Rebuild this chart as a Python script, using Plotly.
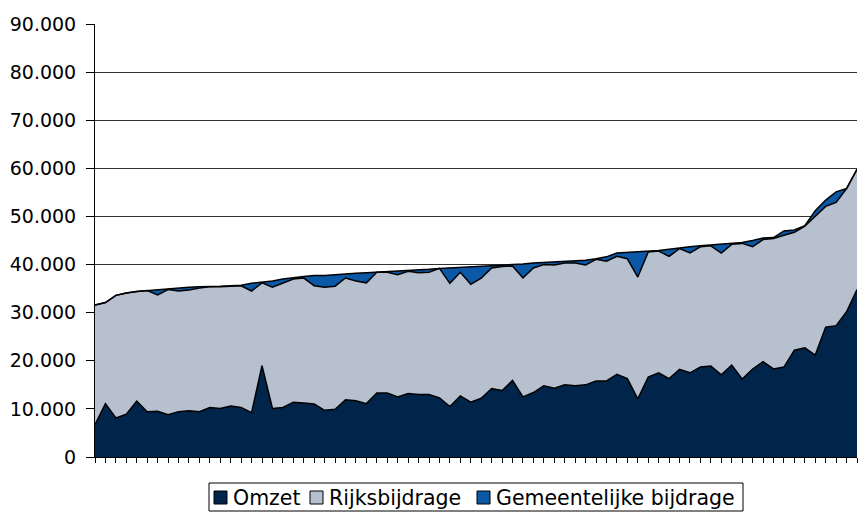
import plotly.graph_objects as go

# Values (euros)
omzet = [6700, 11100, 8100, 8900, 11600, 9400, 9500, 8800, 9400, 9600,
         9400, 10300, 10100, 10600, 10300, 9200, 19000, 10100, 10300, 11400,
         11200, 11000, 9700, 9900, 11900, 11700, 11100, 13300, 13300, 12500,
         13200, 13000, 13000, 12300, 10500, 12700, 11400, 12200, 14200, 13800,
         15900, 12500, 13400, 14800, 14300, 15000, 14800, 15000, 15800, 15800,
         17200, 16300, 12100, 16600, 17500, 16300, 18200, 17500, 18700, 18900,
         17100, 19100, 16200, 18300, 19800, 18300, 18700, 22200, 22700, 21200,
         27000, 27300, 30200, 34800]

rijksbijdrage = [24900, 21000, 25500, 25200, 22800, 25200, 24200, 26000, 25100, 25100,
                 25700, 25100, 25300, 24900, 25300, 25300, 17200, 25200, 25900, 25600,
                 26000, 24600, 25600, 25600, 25300, 24900, 25100, 25100, 25100, 25400,
                 25400, 25300, 25400, 26900, 25600, 25700, 24500, 25000, 25100, 25800,
                 23800, 24700, 25900, 25200, 25600, 25300, 25500, 24900, 25300, 24900,
                 24500, 24900, 25300, 26000, 25300, 25400, 25100, 24900, 25000, 25000,
                 25300, 25100, 28200, 25400, 25400, 27100, 27400, 24500, 25300, 28900,
                 25100, 25600, 25600, 25000]

gemeentelijk = [0, 0, 0, 0, 0, 0, 1000, 200, 600, 600,
                300, 0, 100, 100, 100, 1600, 100, 1300, 800, 300,
                300, 2100, 2400, 2400, 900, 1600, 2100, 0, 100, 700,
                100, 500, 600, 0, 3200, 1100, 3600, 2400, 400, 200,
                200, 2900, 1000, 400, 600, 300, 500, 1000, 100, 900,
                700, 1300, 5200, 200, 100, 1500, 200, 1300, 200, 200,
                1900, 300, 200, 1300, 300, 200, 900, 500, 100, 1100,
                1300, 2200, 0, 0]

categories = list(range(len(omzet)))

series_names = ["Omzet", "Rijksbijdrage", "Gemeentelijke bijdrage"]
series_values = [omzet, rijksbijdrage, gemeentelijk]
series_colors = ["#01244B", "#B7C0CF", "#0B58A6"]

y_ticks = list(range(0, 90001, 10000))

W, H = 858, 512
ML, MR, MT, MB = 95, 1, 24, 55
PW, PH = W - ML - MR, H - MT - MB
FONT = "DejaVu Sans, Liberation Sans, Arial, sans-serif"


def px(x):  # screen x -> paper fraction
    return (x - ML) / PW


def py(y):  # screen y -> paper fraction
    return (H - MB - y) / PH


fig = go.Figure()
for name, vals, col in zip(series_names, series_values, series_colors):
    fig.add_trace(go.Scatter(
        x=categories, y=vals, name=name, stackgroup="one", mode="lines",
        line=dict(color="black", width=1.5), fillcolor=col,
        showlegend=False, hoverinfo="skip"))

# manual legend (box, square swatches, labels)
shapes = [dict(type="rect", xref="paper", yref="paper",
               x0=px(209), x1=px(743), y0=py(511), y1=py(483),
               line=dict(color="black", width=1), fillcolor="white")]
annotations = []
sq_left = [214, 310, 477]
txt_left = [231, 327, 494]
for name, col, sx, tx in zip(series_names, series_colors, sq_left, txt_left):
    shapes.append(dict(type="rect", xref="paper", yref="paper",
                       x0=px(sx), x1=px(sx + 13), y0=py(504), y1=py(491),
                       line=dict(color="black", width=1), fillcolor=col))
    annotations.append(dict(text=name, xref="paper", yref="paper",
                            x=px(tx), y=py(497.5), xanchor="left", yanchor="middle",
                            showarrow=False, font=dict(size=20.5, family=FONT, color="black")))

fig.update_layout(
    width=W, height=H,
    margin=dict(l=ML, r=MR, t=MT, b=MB, autoexpand=False),
    paper_bgcolor="white", plot_bgcolor="white",
    separators=",.",
    font=dict(family=FONT, size=19, color="black"),
    showlegend=False,
    shapes=shapes, annotations=annotations,
    xaxis=dict(range=[0, len(omzet) - 1], tickmode="linear", tick0=0, dtick=1,
               showticklabels=False, ticks="outside", ticklen=5, tickcolor="black",
               showline=True, linecolor="black", linewidth=1, showgrid=False,
               zeroline=False, fixedrange=True, automargin=False),
    yaxis=dict(range=[0, 90000], tickmode="array", tickvals=y_ticks,
               tickformat=",d", ticks="outside", ticklen=8, tickcolor="black",
               ticklabelstandoff=6,
               showline=True, linecolor="black", linewidth=1,
               showgrid=True, gridcolor="#333333", gridwidth=1,
               zeroline=False, fixedrange=True, automargin=False),
)

# remove the default 8px page margin so the figure fills the window exactly
fig.write_html("out.html", config={"displayModeBar": False},
               post_script="document.body.style.margin='0';document.body.style.overflow='hidden';")
